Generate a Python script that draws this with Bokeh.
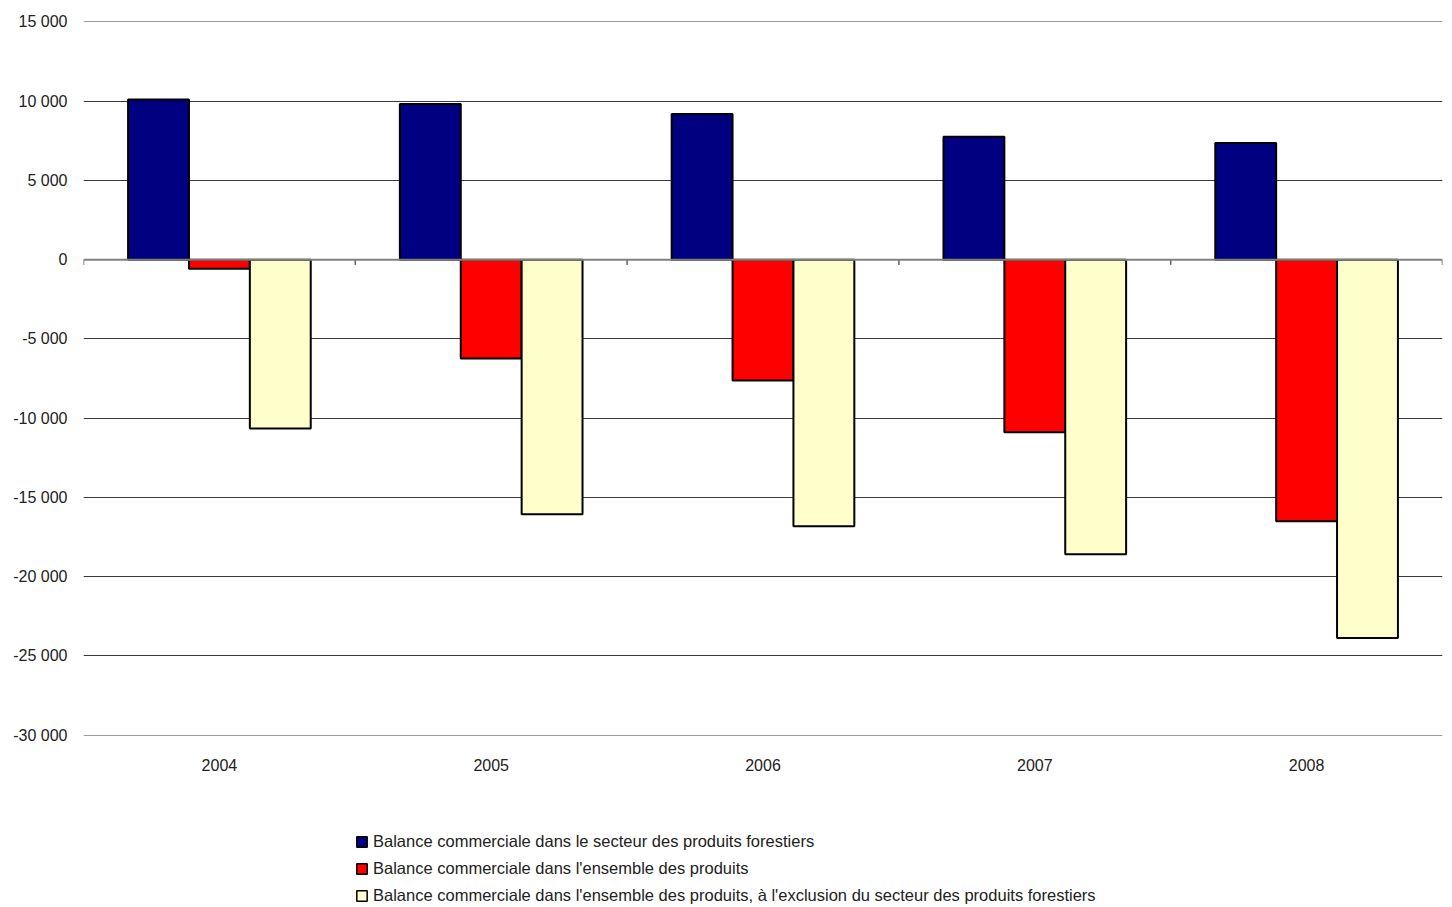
from bokeh.plotting import figure
from bokeh.layouts import column
from bokeh.models import (ColumnDataSource, FixedTicker, LinearAxis, Legend, LegendItem,
                          Range1d, Span)
from bokeh.embed import file_html
from bokeh.resources import INLINE

years = ["2004", "2005", "2006", "2007", "2008"]
foret = [10100, 9830, 9200, 7750, 7370]
ensemble = [-570, -6240, -7620, -10900, -16510]
hors_foret = [-10650, -16070, -16820, -18590, -23880]
series_names = [
    "Balance commerciale dans le secteur des produits forestiers",
    "Balance commerciale dans l'ensemble des produits",
    "Balance commerciale dans l'ensemble des produits, à l'exclusion du secteur des produits forestiers",
]
colors = ["#000080", "#FF0000", "#FFFFCC"]
y_ticks = [-30000, -25000, -20000, -15000, -10000, -5000, 0, 5000, 10000, 15000]

FONT = "Liberation Sans"
W = 1444

p = figure(width=W, height=790, output_backend="svg", toolbar_location=None,
           x_range=Range1d(0, 5), y_range=Range1d(-30030, 15030), x_axis_location=None,
           min_border_left=83, min_border_top=21, min_border_right=2, min_border_bottom=55)
p.outline_line_color = None
p.xgrid.visible = False

centers = [i + 0.5 for i in range(len(years))]
bw = 0.224
offsets = [-bw, 0.0, bw]
all_vals = [foret, ensemble, hors_foret]
for vals, off, col in zip(all_vals, offsets, colors):
    src = ColumnDataSource(dict(x=[c + off for c in centers], top=vals))
    p.vbar(x="x", top="top", bottom=0, width=bw, source=src, fill_color=col,
           line_color="black", line_width=2)

# y axis styling
p.yaxis.ticker = FixedTicker(ticks=y_ticks)
p.yaxis.major_label_overrides = {t: f"{t:,}".replace(",", " ") for t in y_ticks}
p.yaxis.axis_line_color = None
p.yaxis.major_tick_line_color = None
p.yaxis.minor_tick_line_color = None
p.yaxis.major_label_standoff = 10
p.yaxis.major_label_text_font = FONT
p.yaxis.major_label_text_font_size = "16px"
p.yaxis.major_label_text_color = "#222222"
p.ygrid.ticker = FixedTicker(ticks=[t for t in y_ticks if t != 0])
p.ygrid.grid_line_color = "#3a3a3a"
p.ygrid.grid_line_width = 1

# zero line with category boundary ticks
p.add_layout(Span(location=0, dimension="width", line_color="#808080", line_width=2))
bounds = list(range(len(years) + 1))
p.segment(x0=bounds, y0=[0] * len(bounds), x1=bounds, y1=[-330] * len(bounds),
          line_color="#606060", line_width=1.5)

# year labels at the bottom
xa = LinearAxis(ticker=FixedTicker(ticks=centers),
                major_label_overrides={c: y for c, y in zip(centers, years)})
xa.axis_line_color = None
xa.major_tick_line_color = None
xa.minor_tick_line_color = None
xa.major_label_standoff = 17
xa.major_label_text_font = FONT
xa.major_label_text_font_size = "16px"
xa.major_label_text_color = "#222222"
p.add_layout(xa, "below")

# legend in its own strip below the chart (its renderers are hidden)
lf = figure(width=W, height=115, output_backend="svg", toolbar_location=None,
            x_range=Range1d(0, 5), y_range=Range1d(-30030, 15030),
            x_axis_location=None, y_axis_location=None,
            min_border_left=0, min_border_right=0, min_border_top=0, min_border_bottom=0)
lf.outline_line_color = None
lf.grid.visible = False
items = []
for name, vals, col in zip(series_names, all_vals, colors):
    r = lf.vbar(x=centers, top=vals, width=bw, fill_color=col, line_color="black",
                line_width=1.5, visible=False)
    items.append(LegendItem(label=name, renderers=[r]))

legend = Legend(items=items, location=(272, 0), orientation="vertical")
legend.border_line_color = None
legend.background_fill_alpha = 0
legend.inactive_fill_alpha = 0
legend.padding = 0
legend.margin = 0
legend.spacing = 7
legend.label_height = 20
legend.glyph_height = 13
legend.glyph_width = 13
legend.label_standoff = 5
legend.label_text_font = FONT
legend.label_text_font_size = "16.5px"
legend.label_text_color = "#222222"
lf.add_layout(legend, "center")

layout = column(p, lf, spacing=0)
open("out.html", "w").write(file_html(layout, INLINE))
